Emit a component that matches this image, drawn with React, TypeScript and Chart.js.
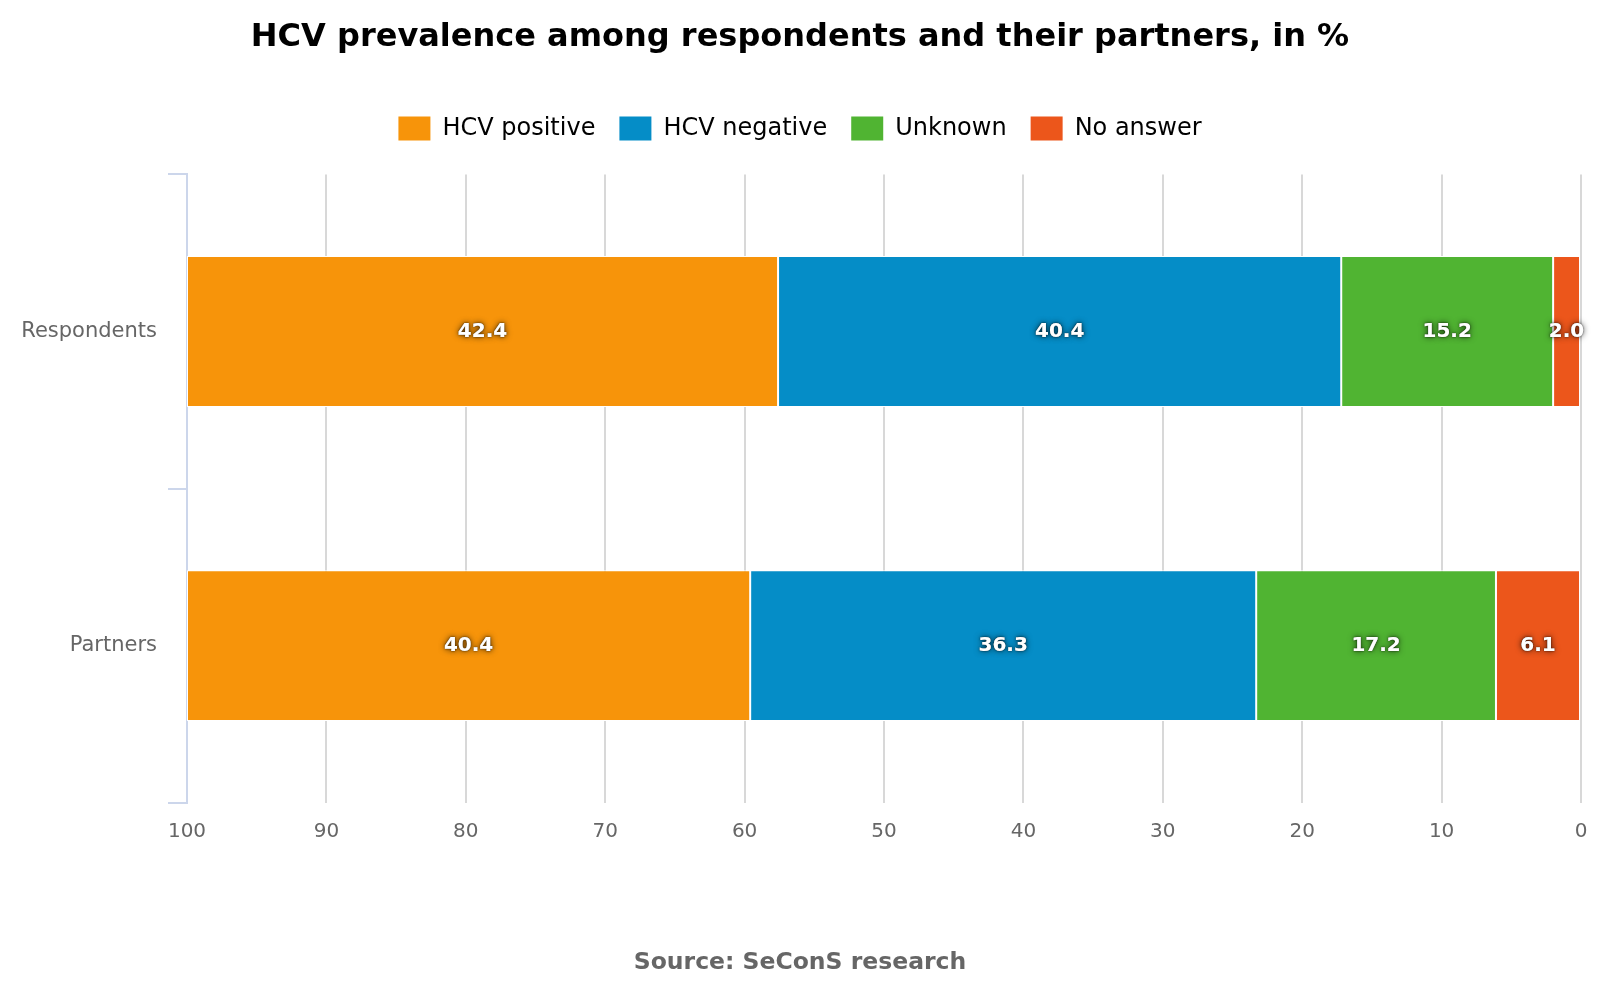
import React, { useEffect, useRef } from "react";
import { Chart, registerables } from "chart.js";

Chart.register(...registerables);

const categories = ["Respondents", "Partners"];
const seriesNames = ["HCV positive", "HCV negative", "Unknown", "No answer"];
const hcvPositive = [42.4, 40.4];
const hcvNegative = [40.4, 36.3];
const unknown = [15.2, 17.2];
const noAnswer = [2.0, 6.1];
const seriesColors = ["#f7940a", "#058dc7", "#50b432", "#ec561b"];
const titleText = "HCV prevalence among respondents and their partners, in %";
const sourceText = "Source: SeConS research";

const FONT = "'DejaVu Sans', Verdana, sans-serif";

const dataLabelPlugin = {
  id: "dataLabels",
  afterDatasetsDraw(chart: any) {
    const ctx = chart.ctx;
    ctx.save();
    ctx.font = `bold 20px ${FONT}`;
    ctx.textAlign = "center";
    ctx.textBaseline = "middle";
    chart.data.datasets.forEach((ds: any, i: number) => {
      const meta = chart.getDatasetMeta(i);
      if (meta.hidden) return;
      meta.data.forEach((el: any, j: number) => {
        const v = ds.data[j];
        const p = el.getCenterPoint();
        const txt = Number(v).toFixed(1);
        ctx.shadowColor = "rgba(0,0,0,0.75)";
        ctx.shadowBlur = 6;
        ctx.fillStyle = "#ffffff";
        ctx.fillText(txt, p.x, p.y);
        ctx.shadowBlur = 2;
        ctx.fillText(txt, p.x, p.y);
      });
    });
    ctx.restore();
  },
};

const legendSpacer = {
  id: "legendSpacer",
  afterInit(chart: any) {
    const lg = chart.legend;
    if (lg && !lg.__patched) {
      const orig = lg.fit;
      lg.fit = function () {
        orig.call(this);
        this.height += 24;
      };
      lg.__patched = true;
    }
  },
};

export default function App() {
  const ref = useRef<HTMLCanvasElement>(null);
  useEffect(() => {
    document.body.style.margin = "0";
    const ds = [
      { label: seriesNames[3], data: noAnswer, backgroundColor: seriesColors[3] },
      { label: seriesNames[2], data: unknown, backgroundColor: seriesColors[2] },
      { label: seriesNames[1], data: hcvNegative, backgroundColor: seriesColors[1] },
      { label: seriesNames[0], data: hcvPositive, backgroundColor: seriesColors[0] },
    ].map((d) => ({
      ...d,
      borderColor: "#ffffff",
      borderWidth: 1,
      borderSkipped: false,
      barPercentage: 0.48,
      categoryPercentage: 1,
    }));
    const chart = new Chart(ref.current as HTMLCanvasElement, {
      type: "bar",
      data: { labels: categories, datasets: ds as any },
      plugins: [dataLabelPlugin, legendSpacer],
      options: {
        indexAxis: "y",
        animation: false,
        responsive: false,
        maintainAspectRatio: false,
        layout: { padding: 0 },
        plugins: {
          title: {
            display: true,
            text: titleText,
            color: "#000000",
            font: { family: FONT, size: 32, weight: "bold" },
            padding: { top: 18, bottom: 36 },
          },
          subtitle: {
            display: true,
            position: "bottom",
            text: sourceText,
            color: "#666666",
            font: { family: FONT, size: 23.5, weight: "bold" },
            padding: { top: 88, bottom: 23 },
          },
          legend: {
            display: true,
            reverse: true,
            labels: {
              color: "#000000",
              font: { family: FONT, size: 24 },
              boxWidth: 32,
              boxHeight: 24,
              padding: 24,
              generateLabels(chart: any) {
                const items = Chart.defaults.plugins.legend.labels.generateLabels(chart);
                return items.map((it: any) => ({ ...it, lineWidth: 0, strokeStyle: "transparent" }));
              },
            },
          },
          tooltip: { enabled: false },
        },
        scales: {
          x: {
            type: "linear",
            stacked: true,
            reverse: true,
            min: 0,
            max: 100,
            ticks: {
              stepSize: 10,
              color: "#666666",
              font: { family: FONT, size: 20 },
              padding: 17,
            },
            grid: { color: "#d8d8d8", lineWidth: 2, drawTicks: false },
            border: { display: false },
            afterFit(scale: any) {
              scale.paddingRight = 19;
            },
          },
          y: {
            type: "category",
            stacked: true,
            offset: true,
            ticks: {
              color: "#666666",
              font: { family: FONT, size: 21 },
              padding: 11,
            },
            grid: {
              offset: true,
              drawOnChartArea: false,
              drawTicks: true,
              tickLength: 19,
              color: "#ccd6eb",
              lineWidth: 2,
            },
            border: { display: true, color: "#ccd6eb", width: 2 },
            afterFit(scale: any) {
              scale.width = 187;
            },
          },
        },
      } as any,
    });
    return () => chart.destroy();
  }, []);
  return <canvas ref={ref} width={1600} height={1000} style={{ display: "block" }} />;
}
